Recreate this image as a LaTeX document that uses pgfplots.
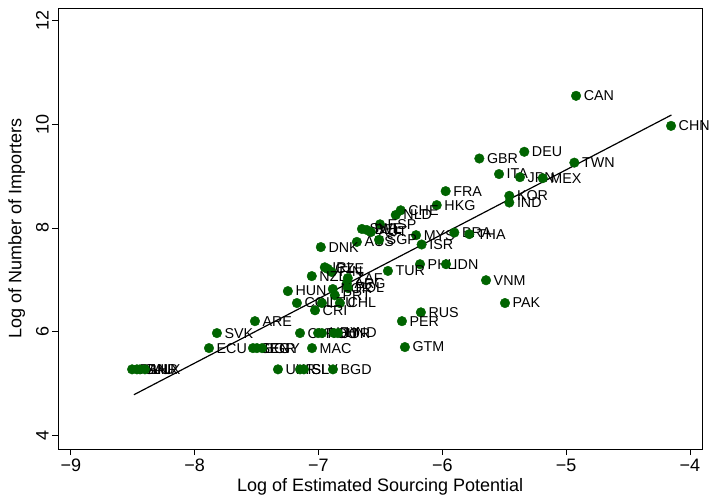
\documentclass[border=0pt]{standalone}
\usepackage{fontspec}
\setmainfont{Liberation Sans}
\usepackage{pgfplots}
\usepackage{pgfplotstable}
\pgfplotsset{compat=1.18}
\definecolor{dkgreen}{RGB}{0,100,0}
\pgfplotstableread{
x y label
-4.92 10.55 CAN
-4.153 9.97 CHN
-5.338 9.47 DEU
-5.701 9.34 GBR
-4.934 9.26 TWN
-5.542 9.04 ITA
-5.373 8.98 JPN
-5.189 8.96 MEX
-5.973 8.71 FRA
-5.459 8.62 KOR
-5.459 8.49 IND
-6.045 8.44 HKG
-6.336 8.34 CHE
-6.376 8.25 NLD
-6.503 8.07 ESP
-6.649 7.98 SWE
-6.609 7.96 BEL
-6.577 7.92 AUT
-6.212 7.86 MYS
-5.903 7.91 BRA
-5.782 7.88 THA
-6.690 7.73 AUS
-6.511 7.77 SGP
-6.167 7.68 ISR
-6.981 7.63 DNK
-6.180 7.30 PHL
-5.970 7.30 IDN
-6.439 7.17 TUR
-5.647 6.99 VNM
-5.494 6.55 PAK
-6.173 6.37 RUS
-6.326 6.20 PER
-6.302 5.70 GTM
-6.949 7.24 IRL
-6.925 7.21 CZE
-6.893 7.15 FIN
-7.054 7.07 NZL
-6.763 7.03 ZAF
-6.771 6.93 ARG
-6.884 6.82 NOR
-6.763 6.84 POL
-6.868 6.70 PRT
-7.247 6.78 HUN
-7.174 6.55 COL
-6.972 6.55 LTU
-6.827 6.55 CHL
-7.028 6.41 CRI
-7.513 6.20 ARE
-7.820 5.97 SVK
-7.149 5.97 CYP
-7.003 5.97 ROU
-6.972 5.97 URY
-6.875 5.97 JOR
-6.843 5.97 HND
-7.884 5.68 ECU
-7.529 5.68 SEN
-7.497 5.68 BGR
-7.456 5.68 EGY
-7.052 5.68 MAC
-7.327 5.27 UKR
-7.149 5.27 ISL
-7.117 5.27 SLV
-6.883 5.27 BGD
-8.505 5.27 PAN
-8.466 5.27 SAU
-8.441 5.27 BHR
-8.401 5.27 LUX
}\pts
\begin{document}
\begin{tikzpicture}
\begin{axis}[
  scale only axis, width=644pt, height=441pt,
  xmin=-9.101, xmax=-3.903, ymin=3.73, ymax=12.24,
  axis line style={line width=0.8pt},
  tick align=outside, xtick pos=bottom, ytick pos=left,
  major tick length=6pt,
  tick style={line width=0.8pt, black},
  xtick={-9,-8,-7,-6,-5,-4},
  xticklabels={−9,−8,−7,−6,−5,−4},
  ytick={4,6,8,10,12},
  /pgf/number format/assume math mode=true,
  ticklabel style={font=\fontsize{18}{20}\selectfont},
  yticklabel style={rotate=90, anchor=south},
  label style={font=\fontsize{18}{20}\selectfont},
  xlabel={Log of Estimated Sourcing Potential},
  ylabel={Log of Number of Importers},
  ylabel style={xshift=0pt, yshift=4pt},
  clip=false,
]
\addplot[only marks, mark=*, mark size=4.8pt, mark options={fill=dkgreen, draw=dkgreen},
  nodes near coords, point meta=explicit symbolic,
  every node near coord/.append style={anchor=west, inner sep=0pt, xshift=7.5pt,
    font=\fontsize{14.3}{16}\selectfont, text=black}]
  table[x=x, y=y, meta=label] {\pts};
\addplot[black, line width=1.2pt, no marks] coordinates {(-8.49,4.78) (-4.15,10.18)};
\end{axis}
\pgfresetboundingbox
\path ([xshift=-58.3pt,yshift=-47pt]current axis.south west) rectangle ([xshift=10pt,yshift=8.3pt]current axis.north east);
\end{tikzpicture}
\end{document}
